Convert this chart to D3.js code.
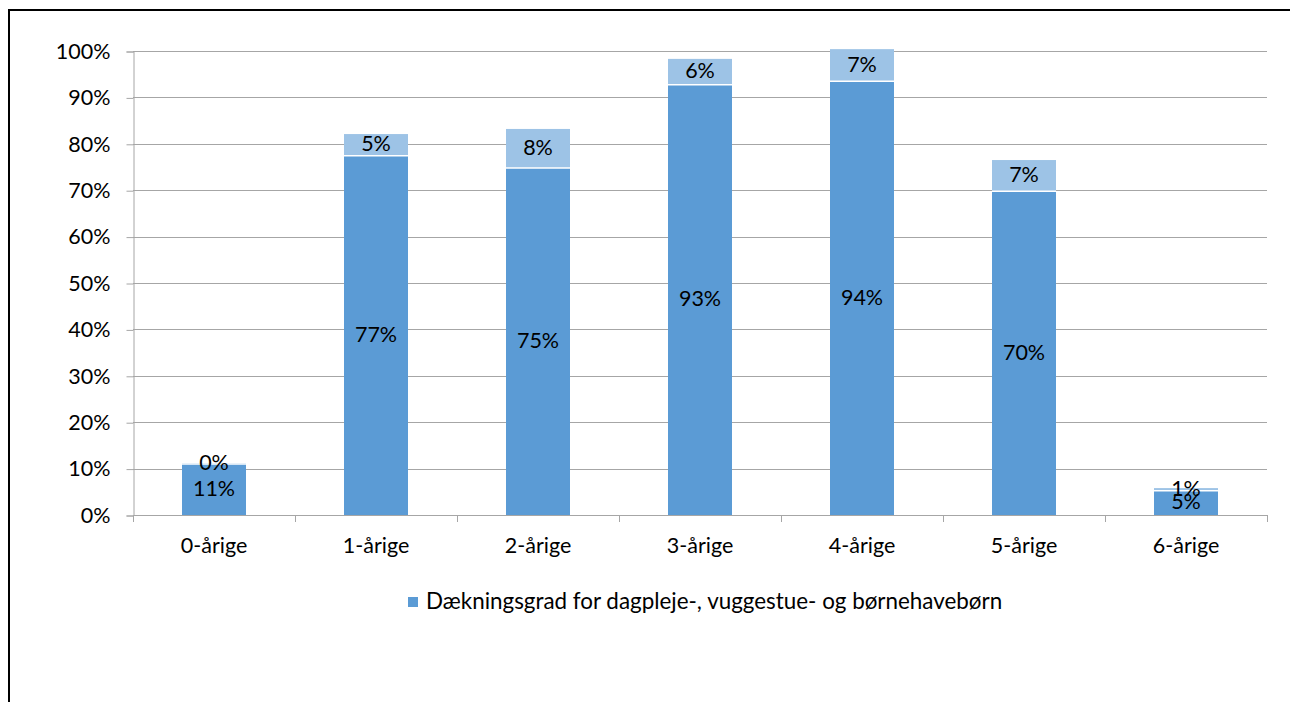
<!DOCTYPE html>
<html>
<head>
<meta charset="utf-8">
<script src="https://cdn.jsdelivr.net/npm/d3@7"></script>
<style>
  html, body { margin: 0; padding: 0; background: #fff; }
  svg { display: block; }
  text { font-family: Lato, "Open Sans", "Liberation Sans", sans-serif; fill: #000; }
</style>
</head>
<body>
<svg id="chart" width="1290" height="702"></svg>
<script>
const categories = ["0-årige", "1-årige", "2-årige", "3-årige", "4-årige", "5-årige", "6-årige"];
const baseValues = [0.110, 0.774, 0.748, 0.927, 0.935, 0.698, 0.052];
const extraValues = [0.002, 0.047, 0.084, 0.056, 0.069, 0.067, 0.006];
const yTicks = [0, 0.1, 0.2, 0.3, 0.4, 0.5, 0.6, 0.7, 0.8, 0.9, 1.0];
const legendLabel = "Dækningsgrad for dagpleje-, vuggestue- og børnehavebørn";

(function () {
const svg = d3.select("#chart");
const W = 1290, H = 702;
const mLeft = 133, mRight = 1267, mTop = 51, mBottom = 515;
const FS = "21.5px";

// frame
svg.append("path")
  .attr("d", `M9,${H} L9,10 L${W},10`)
  .attr("fill", "none").attr("stroke", "#000").attr("stroke-width", 2);

const x = d3.scaleBand().domain(categories).range([mLeft, mRight]).paddingInner(0.605).paddingOuter(0.3025);
const y = d3.scaleLinear().domain([0, 1]).range([mBottom, mTop]);

// gridlines
svg.append("g").selectAll("line").data(yTicks.slice(1)).join("line")
  .attr("x1", mLeft).attr("x2", mRight)
  .attr("y1", d => Math.round(y(d)) + 0.5).attr("y2", d => Math.round(y(d)) + 0.5)
  .attr("stroke", "#a6a6a6").attr("stroke-width", 1);

// y axis
const yAxis = d3.axisLeft(y).tickValues(yTicks).tickFormat(d3.format(".0%")).tickSize(7).tickPadding(16);
const gy = svg.append("g").attr("transform", `translate(${mLeft + 0.5},0.5)`).call(yAxis);
gy.selectAll("path, line").attr("stroke", "#a6a6a6");
gy.selectAll("text").style("font-size", FS).attr("fill", "#000")
  .attr("font-family", "Lato, 'Open Sans', sans-serif");

// x axis
const boundaries = d3.range(categories.length + 1).map(i => mLeft + i * (mRight - mLeft) / categories.length);
const gx = svg.append("g");
gx.append("line").attr("x1", mLeft).attr("x2", mRight)
  .attr("y1", mBottom + 0.5).attr("y2", mBottom + 0.5).attr("stroke", "#a6a6a6");
gx.selectAll("line.t").data(boundaries).join("line").attr("class", "t")
  .attr("x1", d => Math.round(d) + 0.5).attr("x2", d => Math.round(d) + 0.5)
  .attr("y1", mBottom).attr("y2", mBottom + 7).attr("stroke", "#a6a6a6");
gx.selectAll("text").data(categories).join("text")
  .attr("x", d => x(d) + x.bandwidth() / 2).attr("y", 548)
  .attr("text-anchor", "middle").attr("dominant-baseline", "middle")
  .style("font-size", FS).text(d => d);

// bars
const data = categories.map((c, i) => ({ c, base: baseValues[i], extra: extraValues[i] }));
const bars = svg.append("g");
bars.selectAll("rect.base").data(data).join("rect").attr("class", "base")
  .attr("x", d => x(d.c)).attr("width", x.bandwidth())
  .attr("y", d => y(d.base)).attr("height", d => y(0) - y(d.base))
  .attr("fill", "#5b9bd5");
bars.selectAll("rect.extra").data(data).join("rect").attr("class", "extra")
  .attr("x", d => x(d.c)).attr("width", x.bandwidth())
  .attr("y", d => y(d.base + d.extra)).attr("height", d => y(d.base) - y(d.base + d.extra))
  .attr("fill", "#9dc3e6");
bars.selectAll("line.sep").data(data).join("line").attr("class", "sep")
  .attr("x1", d => x(d.c)).attr("x2", d => x(d.c) + x.bandwidth())
  .attr("y1", d => y(d.base)).attr("y2", d => y(d.base))
  .attr("stroke", "#fff").attr("stroke-width", 1.5);

// labels
const fmt = d3.format(".0%");
bars.selectAll("text.bl").data(data).join("text").attr("class", "bl")
  .attr("x", d => x(d.c) + x.bandwidth() / 2)
  .attr("y", d => (y(0) + y(d.base)) / 2 + 1)
  .attr("text-anchor", "middle").attr("dominant-baseline", "middle")
  .style("font-size", FS).text(d => fmt(d.base));
bars.selectAll("text.el").data(data).join("text").attr("class", "el")
  .attr("x", d => x(d.c) + x.bandwidth() / 2)
  .attr("y", d => (y(d.base) + y(d.base + d.extra)) / 2 + 1)
  .attr("text-anchor", "middle").attr("dominant-baseline", "middle")
  .style("font-size", FS).text(d => fmt(d.extra));

// legend
const lg = svg.append("g");
lg.append("rect").attr("x", 408).attr("y", 597).attr("width", 10).attr("height", 10).attr("fill", "#5b9bd5");
lg.append("text").attr("x", 426).attr("y", 603).attr("dominant-baseline", "middle")
  .style("font-size", "22.4px").text(legendLabel);
})();
</script>
</body>
</html>
